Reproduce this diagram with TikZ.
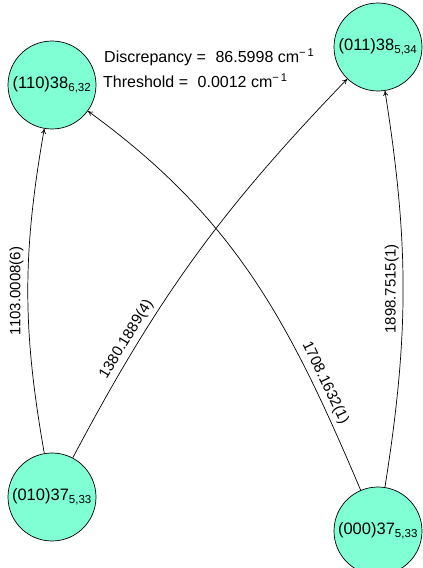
\documentclass[tikz,border=0pt]{standalone}
\usepackage{fontspec}
\setmainfont{Liberation Sans}
\usetikzlibrary{arrows.meta}
\definecolor{statefill}{RGB}{128,255,212}
\tikzset{
  state/.style={circle, draw=black, line width=0.7pt, fill=statefill,
    minimum size=88pt, inner sep=0pt, font=\fontsize{16.5}{19}\selectfont},
  trans/.style={line width=0.7pt, -{To[length=5pt,width=5pt]}},
  translabel/.style={sloped, above, inner sep=4pt, font=\fontsize{15}{18}\selectfont},
  info/.style={anchor=base west, inner sep=0pt, font=\fontsize{16}{19}\selectfont}
}
\begin{document}
\begin{tikzpicture}[x=1pt,y=1pt]
  \useasboundingbox (0,0) rectangle (423,568);
  % energy levels
  \node[state] (n110) at (52,483) {(110)38\textsubscript{6,32}};
  \node[state] (n011) at (378,521) {(011)38\textsubscript{5,34}};
  \node[state] (n010) at (52,71) {(010)37\textsubscript{5,33}};
  \node[state] (n000) at (378,37) {(000)37\textsubscript{5,33}};
  % summary
  \node[info] (disc) at (104,505) {Discrepancy =\hspace{0.6em}86.5998 cm\textsuperscript{−\,1}};
  \node[info] (thr) at (103,480) {Threshold =\hspace{0.6em}0.0012 cm\textsuperscript{−\,1}};
  % transitions
  \draw[trans] (n010) to[bend left=10] node[translabel,pos=.5] {1103.0008(6)} (n110);
  \draw[trans] (n010) to[bend left=8] node[translabel,pos=.26] {1380.1889(4)} (n011);
  \draw[trans,{To[length=5pt,width=5pt]}-] (n110) to[out=-36,in=113] node[translabel,pos=.78] {1708.1632(1)} (n000);
  \draw[trans] (n000) to[bend right=9] node[translabel,pos=.5] {1898.7515(1)} (n011);
\end{tikzpicture}
\end{document}
